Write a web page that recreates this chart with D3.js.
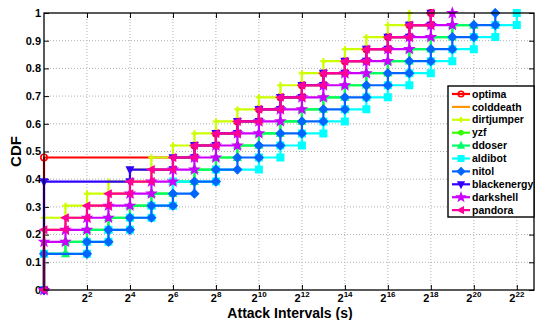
<!DOCTYPE html>
<html>
<head>
<meta charset="utf-8">
<script src="https://cdn.jsdelivr.net/npm/d3@7"></script>
<style>
  html, body { margin: 0; padding: 0; background: #fff; }
  svg { display: block; }
  text { font-family: "Liberation Sans", Arial, Helvetica, sans-serif; font-weight: bold; fill: #000; }
</style>
</head>
<body>
<svg id="chart" width="535" height="320"></svg>
<script>
// ---------- data (x = log2 of attack interval, n = cumulative count out of total) ----------
const total = 23;
const seriesNames = ["optima","colddeath","dirtjumper","yzf","ddoser","aldibot","nitol","blackenergy","darkshell","pandora"];
const seriesColors = ["#ff0000","#ff9900","#ccff00","#33ff00","#00ff66","#00ffff","#0066ff","#3300ff","#cc00ff","#ff0099"];
const seriesMarkers = ["o","none","+","*","^","s","d","v","p","<"];

const optimaX = [0,7,8,9,10,11,12,13,14,15,16,17,18];
const optimaN = [11,12,13,14,15,16,17,18,19,20,21,22,23];
const colddeathX = [0,1,2,3,4,5,6,7,8,9,10,11,12,13,14,15,16,17,18];
const colddeathN = [5,6,7,8,9,10,11,12,13,14,15,16,17,18,19,20,21,22,23];
const dirtjumperX = [0,1,2,3,4,5,6,7,8,9,10,11,12,13,14,15,16,17];
const dirtjumperN = [6,7,8,9,10,11,12,13,14,15,16,17,18,19,20,21,22,23];
const yzfX = [0,1,2,3,4,5,6,7,8,9,10,11,12,13,14,15,16,17,18,19,20];
const yzfN = [3,4,5,6,7,8,9,10,11,12,13,14,15,16,17,18,19,20,21,22,22];
const ddoserX = [0,1,2,3,4,5,6,7,8,9,10,11,12,13,14,15,16,17,18,19,20];
const ddoserN = [3,4,5,6,7,8,9,10,11,12,13,14,15,16,17,18,19,20,21,22,22];
const aldibotX = [0,2,3,4,5,6,8,10,11,12,13,14,15,16,17,18,19,20,21,22];
const aldibotN = [3,4,5,6,7,9,10,11,12,13,14,15,16,17,18,19,20,21,22,23];
const nitolX = [0,2,3,4,5,6,7,8,9,10,11,12,13,14,15,16,17,18,19,20,21];
const nitolN = [3,4,5,6,7,8,9,10,11,12,13,14,15,16,17,18,19,20,21,22,23];
const blackenergyX = [0,4,6,7,8,9,10,11,12,13,14,15,16,17,18];
const blackenergyN = [9,10,11,12,13,14,15,16,17,18,19,20,21,22,23];
const darkshellX = [0,1,2,3,4,5,6,7,8,9,10,11,12,13,14,15,16,17,18,19];
const darkshellN = [4,5,6,7,8,9,10,11,12,13,14,15,16,17,18,19,20,21,22,23];
const pandoraX = [0,1,2,3,4,5,6,7,8,9,10,11,12,13,14,15,16,17,18];
const pandoraN = [5,6,7,8,9,10,11,12,13,14,15,16,17,18,19,20,21,22,23];

const xTickPowers = [2,4,6,8,10,12,14,16,18,20,22];
const yTickValues = [0,0.1,0.2,0.3,0.4,0.5,0.6,0.7,0.8,0.9,1];
const yTickLabels = ["0","0.1","0.2","0.3","0.4","0.5","0.6","0.7","0.8","0.9","1"];
const xLabel = "Attack Intervals (s)";
const yLabel = "CDF";

const seriesX = [optimaX,colddeathX,dirtjumperX,yzfX,ddoserX,aldibotX,nitolX,blackenergyX,darkshellX,pandoraX];
const seriesN = [optimaN,colddeathN,dirtjumperN,yzfN,ddoserN,aldibotN,nitolN,blackenergyN,darkshellN,pandoraN];

// ---------- layout ----------
const svg = d3.select("#chart");
const L = 44, R = 534, T = 13, B = 290;
const x = d3.scaleLinear().domain([0, 22.8]).range([L, R]);
const y = d3.scaleLinear().domain([0, 1]).range([B, T]);

// grid
const grid = svg.append("g");
grid.selectAll("line.gx").data(xTickPowers).join("line")
  .attr("x1", d => x(d)).attr("x2", d => x(d)).attr("y1", T).attr("y2", B)
  .attr("stroke", "#b0b0b0").attr("stroke-width", 1).attr("stroke-dasharray", "1,2");
grid.selectAll("line.gy").data(yTickValues.filter(v => v > 0 && v < 1)).join("line")
  .attr("x1", L).attr("x2", R).attr("y1", d => y(d)).attr("y2", d => y(d))
  .attr("stroke", "#b0b0b0").attr("stroke-width", 1).attr("stroke-dasharray", "1,2");

// axes (ticks inward, on all sides)
const tickLen = 5;
const axB = svg.append("g").attr("transform", `translate(0,${B})`)
  .call(d3.axisBottom(x).tickValues(xTickPowers).tickSize(-tickLen).tickFormat(""));
const axT = svg.append("g").attr("transform", `translate(0,${T})`)
  .call(d3.axisTop(x).tickValues(xTickPowers).tickSize(-tickLen).tickFormat(""));
const axL = svg.append("g").attr("transform", `translate(${L},0)`)
  .call(d3.axisLeft(y).tickValues(yTickValues).tickSize(-tickLen).tickFormat(""));
const axR = svg.append("g").attr("transform", `translate(${R},0)`)
  .call(d3.axisRight(y).tickValues(yTickValues).tickSize(-tickLen).tickFormat(""));
[axB, axT, axL, axR].forEach(a => {
  a.select(".domain").remove();
  a.selectAll(".tick line").attr("stroke", "#000").attr("stroke-width", 1);
});

// tick labels: base "2" and exponent as separate texts
const xLab = svg.append("g");
const baseW = 6.1, supDigitW = 4.45;
xTickPowers.forEach(p => {
  const exp = String(p);
  const totalW = baseW + supDigitW * exp.length;
  const start = x(p) - totalW / 2;
  xLab.append("text").attr("x", start).attr("y", 301.5)
    .attr("text-anchor", "start").style("font-size", "11px").text("2");
  xLab.append("text").attr("x", start + baseW + 0.2).attr("y", 297)
    .attr("text-anchor", "start").style("font-size", "8px").text(exp);
});
svg.append("g").selectAll("text").data(yTickValues).join("text")
  .attr("x", L - 3).attr("y", d => y(d)).attr("dy", "0.35em")
  .attr("text-anchor", "end").style("font-size", "11px")
  .text((d, i) => yTickLabels[i]);

// axis titles
svg.append("text").attr("x", 290).attr("y", 318).attr("text-anchor", "middle")
  .style("font-size", "14px").text(xLabel);
svg.append("text").attr("transform", `translate(21,${(T + B) / 2}) rotate(-90)`)
  .attr("text-anchor", "middle").style("font-size", "15px").text(yLabel);

// ---------- markers ----------
function markerPath(type, r) {
  switch (type) {
    case "o": return d3.symbol(d3.symbolCircle, Math.PI * r * r)();
    case "s": return `M${-r},${-r}H${r}V${r}H${-r}Z`;
    case "d": { const a = r * 1.25; return `M0,${-a}L${a},0L0,${a}L${-a},0Z`; }
    case "^": return `M0,${-r * 1.15}L${r},${r * 0.8}L${-r},${r * 0.8}Z`;
    case "v": return `M0,${r * 1.15}L${r},${-r * 0.8}L${-r},${-r * 0.8}Z`;
    case "<": return `M${-r * 1.15},0L${r * 0.8},${-r}L${r * 0.8},${r}Z`;
    case "p": {
      const pts = [];
      for (let i = 0; i < 10; i++) {
        const rr = i % 2 === 0 ? r * 1.35 : r * 0.55;
        const ang = -Math.PI / 2 + i * Math.PI / 5;
        pts.push([rr * Math.cos(ang), rr * Math.sin(ang)]);
      }
      return "M" + pts.map(p => p.join(",")).join("L") + "Z";
    }
    case "+": return `M${-r},0H${r}M0,${-r}V${r}`;
    case "*": { const a = r * 0.7; return `M${-r},0H${r}M0,${-r}V${r}M${-a},${-a}L${a},${a}M${-a},${a}L${a},${-a}`; }
    default: return null;
  }
}
function drawMarker(g, type, color, cx, cy, r) {
  const p = markerPath(type, r);
  if (!p) return;
  const el = g.append("path").attr("d", p).attr("transform", `translate(${cx},${cy})`)
    .attr("stroke", color).attr("stroke-width", 1.6).attr("stroke-linejoin", "miter");
  if (type === "o" || type === "+" || type === "*") el.attr("fill", "none");
  else el.attr("fill", color);
  if (type === "+" || type === "*") el.attr("stroke-width", 2);
}

// ---------- series ----------
const plot = svg.append("g");
seriesNames.forEach((name, s) => {
  const xs = seriesX[s], ns = seriesN[s];
  const pts = [[xs[0], 0]];
  xs.forEach((xv, i) => {
    if (i > 0) pts.push([xv, ns[i - 1] / total]);
    pts.push([xv, ns[i] / total]);
  });
  const g = plot.append("g");
  g.append("path")
    .attr("d", d3.line().x(d => x(d[0])).y(d => y(d[1]))(pts))
    .attr("fill", "none").attr("stroke", seriesColors[s]).attr("stroke-width", 2.2)
    .attr("stroke-linejoin", "miter");
  pts.forEach(p => drawMarker(g, seriesMarkers[s], seriesColors[s], x(p[0]), y(p[1]), 3.2));
});

// box
svg.append("rect").attr("x", L).attr("y", T).attr("width", R - L).attr("height", B - T)
  .attr("fill", "none").attr("stroke", "#000").attr("stroke-width", 1.3);

// ---------- legend ----------
const lg = svg.append("g");
const lgX = 448, lgY = 86, lgW = 86, lgH = 131;
lg.append("rect").attr("x", lgX).attr("y", lgY).attr("width", lgW).attr("height", lgH)
  .attr("fill", "#fff").attr("stroke", "#000").attr("stroke-width", 1.4);
seriesNames.forEach((name, s) => {
  const cy = 94 + s * 12.9;
  lg.append("line").attr("x1", 452).attr("x2", 470).attr("y1", cy).attr("y2", cy)
    .attr("stroke", seriesColors[s]).attr("stroke-width", 2.2);
  drawMarker(lg, seriesMarkers[s], seriesColors[s], 461, cy, 2.8);
  lg.append("text").attr("x", 472).attr("y", cy).attr("dy", "0.35em")
    .style("font-size", "10.5px").text(name);
});
</script>
</body>
</html>
